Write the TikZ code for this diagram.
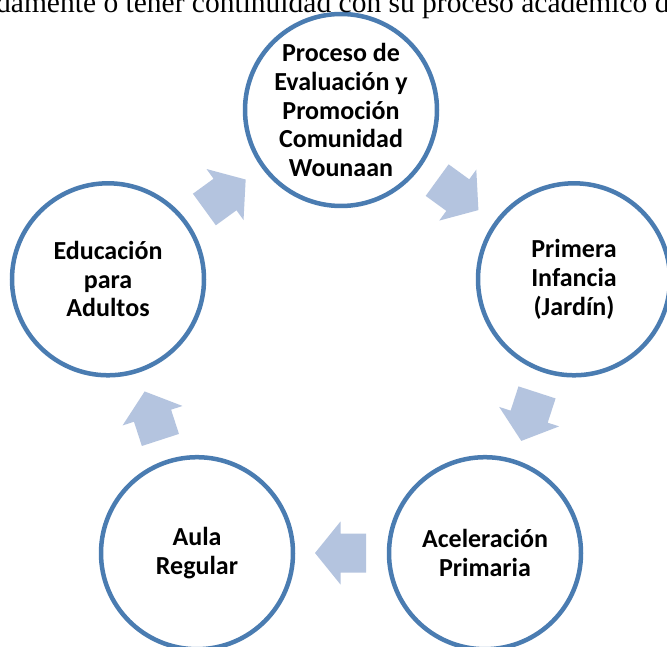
\documentclass[tikz,border=0pt]{standalone}
\usepackage{fontspec}
\setmainfont{Carlito}
\newfontfamily\introserif{Liberation Serif}
\definecolor{ringblue}{RGB}{74,124,177}
\definecolor{arrowblue}{RGB}{180,196,223}
\begin{document}
\begin{tikzpicture}[x=1pt,y=1pt,
  stage/.style={circle, draw=ringblue, line width=4.5pt, fill=white,
    minimum size=192pt, inner sep=0pt, align=center,
    font=\fontsize{26}{28.6}\selectfont\bfseries},
  cyclearrow/.style={fill=arrowblue, draw=none},
  introtext/.style={anchor=base west, inner sep=0pt,
    font=\introserif\fontsize{29.5}{35}\selectfont}]
\useasboundingbox (0,0) rectangle (667,646);
\clip (0,0) rectangle (667,646);
\fill[white] (0,0) rectangle (667,646);
\coordinate (c) at (341,291);
% arrows between the stages
\foreach \a in {54,-18,-90,-162,126}{
  \fill[cyclearrow, shift={(c)}, shift={(\a:198)}, rotate=\a-90]
    (-25,-19.5) -- (0.5,-19.5) -- (0.5,-31.5) -- (26,0) -- (0.5,31.5)
    -- (0.5,19.5) -- (-25,19.5) -- cycle;
}
% stages
\node[stage] (s1) at (341,536) {Proceso de\\Evaluación y\\Promoción\\Comunidad\\Wounaan};
\node[stage] (s2) at (574,366.7) {Primera\\Infancia\\(Jardín)};
\node[stage] (s3) at (485,92.8) {Aceleración\\Primaria};
\node[stage] (s4) at (197,92.8) {Aula\\Regular};
\node[stage] (s5) at (108,366.7) {Educación\\para\\Adultos};
% cut-off line of body text
\node[introtext] (intro) at (-4,633.5) {damente o tener continuidad con su proceso académico d};
\end{tikzpicture}
\end{document}
